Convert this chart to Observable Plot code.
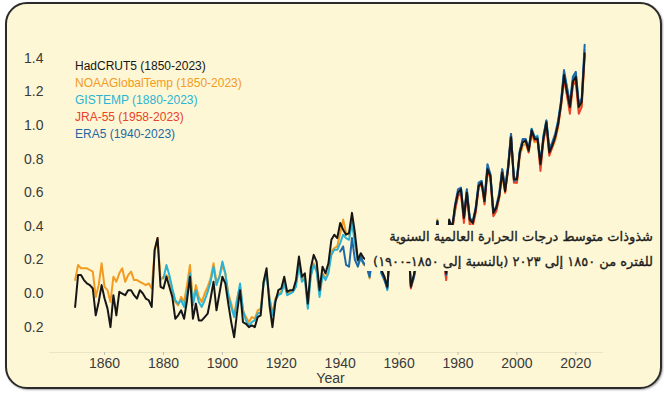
<!DOCTYPE html>
<html><head><meta charset="utf-8">
<script src="https://cdn.jsdelivr.net/npm/d3@7"></script>
<script src="https://cdn.jsdelivr.net/npm/@observablehq/plot@0.6"></script>
<style>
html,body{margin:0;padding:0;background:#fff;}
#wrap{position:relative;width:664px;height:393px;overflow:hidden;font-family:"Liberation Sans",Arial,sans-serif;}
#card{position:absolute;left:5px;top:2px;width:657px;height:387px;box-sizing:border-box;border:2px solid #2b2b2b;border-radius:22px;background:#fdf7d5;box-shadow:1px 1px 2px rgba(0,0,0,0.35);}
#chart{position:absolute;left:0;top:0;}
#legend{position:absolute;left:75px;top:58px;font-size:12px;line-height:17px;white-space:nowrap;}
#title{position:absolute;left:365px;top:225px;width:293px;height:46px;background:#fdf7d5;box-sizing:border-box;padding-right:5px;text-align:right;direction:rtl;font-family:"DejaVu Sans",sans-serif;font-weight:normal;font-size:13px;line-height:27px;color:#1e1e1e;white-space:nowrap;overflow:hidden;-webkit-text-stroke:0.35px #1e1e1e;}
#title div{margin-top:-2px;}
</style></head>
<body>
<div id="wrap">
  <div id="card"></div>
  <div id="chart"></div>
  <div id="legend"></div>
  <div id="title"><div>شذوذات متوسط درجات الحرارة العالمية السنوية</div><div>للفتره من ١٨٥٠ إلى ٢٠٢٣ (بالنسبة إلى ١٨٥٠-١٩٠٠)</div></div>
</div>
<script>
// ---- data (anomalies in °C relative to 1850-1900) ----
const hadcrutStart = 1850;
const hadcrut = [
 -0.08, 0.11, 0.11, 0.08, 0.06, 0.05, 0.03, -0.13, -0.05, 0.05,
 -0.03, -0.09, -0.20, -0.01, -0.13, 0.01, 0.00, -0.01, 0.02, 0.02,
 -0.01, -0.03, 0.02, 0.00, -0.03, -0.04, -0.08, 0.26, 0.33, 0.04,
 0.03, 0.10, 0.04, -0.02, -0.15, -0.13, -0.10, -0.15, -0.04, 0.10,
 -0.15, -0.06, -0.16, -0.16, -0.14, -0.12, -0.03, 0.07, -0.10, 0.00,
 0.10, 0.06, -0.06, -0.17, -0.26, -0.11, 0.02, -0.17, -0.18, -0.20,
 -0.19, -0.20, -0.14, -0.13, 0.07, 0.15, -0.07, -0.20, -0.05, 0.02,
 0.03, 0.10, 0.01, 0.02, 0.02, 0.08, 0.22, 0.10, 0.12, -0.06,
 0.15, 0.23, 0.19, 0.02, 0.16, 0.12, 0.18, 0.32, 0.35, 0.33,
 0.42, 0.38, 0.35, 0.36, 0.48, 0.36, 0.20, 0.24, 0.21, 0.20,
 0.14, 0.27, 0.32, 0.38, 0.14, 0.10, 0.04, 0.29, 0.35, 0.31,
 0.26, 0.33, 0.32, 0.34, 0.04, 0.11, 0.20, 0.24, 0.20, 0.34,
 0.27, 0.15, 0.28, 0.43, 0.17, 0.23, 0.12, 0.44, 0.39, 0.52,
 0.60, 0.62, 0.45, 0.60, 0.44, 0.42, 0.50, 0.64, 0.66, 0.55,
 0.74, 0.70, 0.48, 0.51, 0.58, 0.72, 0.61, 0.74, 0.93, 0.68,
 0.68, 0.84, 0.90, 0.91, 0.85, 0.97, 0.92, 0.92, 0.77, 0.92,
 1.02, 0.84, 0.88, 0.93, 1.01, 1.13, 1.30, 1.20, 1.11, 1.26,
 1.29, 1.11, 1.14, 1.43
];
const noaaStart = 1850;
const noaa = [
 0.08, 0.17, 0.15, 0.15, 0.15, 0.14, 0.13, -0.02, 0.05, 0.18,
 0.04, 0.02, -0.05, 0.10, 0.07, 0.12, 0.15, 0.07, 0.11, 0.13,
 0.08, 0.08, 0.07, 0.06, 0.05, 0.06, 0.03, 0.25, 0.33, 0.08,
 0.10, 0.11, 0.09, 0.02, -0.05, -0.07, -0.02, -0.05, 0.05, 0.17,
 -0.05, 0.05, -0.02, -0.05, 0.00, 0.04, 0.09, 0.18, 0.07, 0.10,
 0.17, 0.12, 0.00, -0.06, -0.13, -0.03, 0.04, -0.10, -0.14, -0.17,
 -0.14, -0.15, -0.10, -0.09, 0.07, 0.12, -0.02, -0.12, -0.03, 0.00,
 0.01, 0.07, 0.00, 0.01, 0.02, 0.06, 0.18, 0.09, 0.10, -0.07,
 0.11, 0.18, 0.14, 0.00, 0.12, 0.09, 0.13, 0.25, 0.27, 0.28,
 0.36, 0.44, 0.36, 0.35, 0.45, 0.32, 0.19, 0.21, 0.17, 0.16,
 0.09, 0.24, 0.30, 0.40, 0.13, 0.09, 0.03, 0.28, 0.35, 0.30,
 0.25, 0.32, 0.31, 0.33, 0.05, 0.10, 0.19, 0.23, 0.20, 0.35,
 0.28, 0.16, 0.27, 0.44, 0.18, 0.22, 0.13, 0.43, 0.38, 0.49,
 0.58, 0.60, 0.44, 0.62, 0.43, 0.41, 0.49, 0.63, 0.65, 0.54,
 0.73, 0.68, 0.47, 0.50, 0.57, 0.70, 0.60, 0.75, 0.91, 0.67,
 0.66, 0.82, 0.88, 0.89, 0.84, 0.95, 0.90, 0.91, 0.76, 0.91,
 1.00, 0.83, 0.87, 0.91, 0.99, 1.12, 1.28, 1.18, 1.10, 1.24,
 1.27, 1.10, 1.12, 1.41
];
const gistempStart = 1880;
const gistemp = [
 0.09, 0.17, 0.11, 0.03, -0.04, -0.06, -0.04, -0.08, 0.00, 0.12,
 -0.07, 0.02, -0.05, -0.08, -0.04, 0.01, 0.07, 0.16, 0.05, 0.10,
 0.19, 0.12, -0.01, -0.08, -0.14, -0.04, 0.06, -0.10, -0.16, -0.19,
 -0.17, -0.16, -0.12, -0.11, 0.06, 0.11, -0.03, -0.13, -0.04, -0.01,
 0.00, 0.06, -0.01, 0.00, 0.01, 0.04, 0.17, 0.07, 0.09, -0.09,
 0.10, 0.17, 0.13, -0.02, 0.11, 0.08, 0.12, 0.23, 0.26, 0.26,
 0.30, 0.35, 0.33, 0.32, 0.42, 0.30, 0.19, 0.20, 0.18, 0.17,
 0.10, 0.25, 0.31, 0.39, 0.12, 0.10, 0.02, 0.30, 0.36, 0.31,
 0.25, 0.33, 0.32, 0.34, 0.04, 0.09, 0.18, 0.22, 0.19, 0.34,
 0.27, 0.15, 0.27, 0.43, 0.16, 0.21, 0.12, 0.43, 0.38, 0.50,
 0.60, 0.63, 0.45, 0.61, 0.44, 0.42, 0.50, 0.64, 0.67, 0.55,
 0.75, 0.71, 0.48, 0.51, 0.58, 0.73, 0.63, 0.75, 0.94, 0.69,
 0.69, 0.85, 0.91, 0.91, 0.86, 0.98, 0.93, 0.94, 0.77, 0.93,
 1.03, 0.86, 0.89, 0.94, 1.02, 1.14, 1.31, 1.22, 1.12, 1.27,
 1.31, 1.12, 1.15, 1.45
];
const jra55Start = 1958;
const jra55 = [
 0.38, 0.32,
 0.26, 0.33, 0.31, 0.34, 0.03, 0.10, 0.19, 0.23, 0.19, 0.33,
 0.26, 0.14, 0.27, 0.42, 0.14, 0.21, 0.08, 0.42, 0.37, 0.50,
 0.58, 0.60, 0.42, 0.59, 0.41, 0.40, 0.48, 0.63, 0.66, 0.53,
 0.73, 0.69, 0.46, 0.49, 0.57, 0.74, 0.60, 0.74, 0.95, 0.66,
 0.66, 0.84, 0.92, 0.91, 0.84, 0.97, 0.91, 0.92, 0.73, 0.91,
 1.00, 0.82, 0.87, 0.93, 1.00, 1.12, 1.28, 1.18, 1.07, 1.24,
 1.26, 1.07, 1.11, 1.42
];
const era5Start = 1940;
const era5 = [
 0.25, 0.28, 0.17, 0.16, 0.33, 0.20, 0.16, 0.22, 0.18, 0.16,
 0.10, 0.24, 0.30, 0.37, 0.12, 0.08, 0.03, 0.28, 0.36, 0.30,
 0.25, 0.32, 0.31, 0.33, 0.05, 0.10, 0.19, 0.23, 0.20, 0.34,
 0.27, 0.15, 0.27, 0.43, 0.16, 0.22, 0.11, 0.43, 0.38, 0.53,
 0.62, 0.63, 0.46, 0.62, 0.45, 0.43, 0.51, 0.66, 0.67, 0.56,
 0.77, 0.71, 0.49, 0.52, 0.60, 0.74, 0.63, 0.76, 0.95, 0.67,
 0.68, 0.85, 0.92, 0.92, 0.86, 0.98, 0.93, 0.93, 0.78, 0.94,
 1.03, 0.86, 0.90, 0.95, 1.03, 1.15, 1.33, 1.23, 1.13, 1.29,
 1.32, 1.13, 1.16, 1.48
];
const seriesNames = ["HadCRUT5", "NOAAGlobalTemp", "GISTEMP", "JRA-55", "ERA5"];
const legendLabels = ["HadCRUT5 (1850-2023)", "NOAAGlobalTemp (1850-2023)", "GISTEMP (1880-2023)", "JRA-55 (1958-2023)", "ERA5 (1940-2023)"];
const seriesColors = ["#161616", "#f39a21", "#2bb3d3", "#e8432b", "#1f68a6"];
const xTicks = [1860, 1880, 1900, 1920, 1940, 1960, 1980, 2000, 2020];
const yTicks = [-0.2, 0, 0.2, 0.4, 0.6, 0.8, 1.0, 1.2, 1.4];
const xTitle = "Year";
const xDomain = [1841.3, 2029.4];
const yDomain = [-0.351, 1.5];

// draw order: black on top
const drawOrder = [
  {name: "NOAAGlobalTemp", start: noaaStart, values: noaa},
  {name: "GISTEMP", start: gistempStart, values: gistemp},
  {name: "JRA-55", start: jra55Start, values: jra55},
  {name: "ERA5", start: era5Start, values: era5},
  {name: "HadCRUT5", start: hadcrutStart, values: hadcrut}
];
const rows = drawOrder.flatMap(s => s.values.map((v, i) => ({series: s.name, year: s.start + i, value: v})));

const chart = Plot.plot({
  width: 664,
  height: 393,
  marginLeft: 49,
  marginRight: 61,
  marginTop: 41,
  marginBottom: 41,
  style: {background: "transparent", fontFamily: "'Liberation Sans', Arial, sans-serif", fontSize: "14px", color: "#3a3a3a"},
  x: {domain: xDomain, label: null},
  y: {domain: yDomain, label: null},
  color: {domain: seriesNames, range: seriesColors},
  marks: [
    Plot.ruleY([yDomain[0]], {stroke: "#ebe5c6", strokeWidth: 1}),
    Plot.axisY({ticks: yTicks, tickSize: 0, tickPadding: 6, tickFormat: d => Math.abs(d).toFixed(1), label: null, fontSize: 14}),
    Plot.axisX({ticks: xTicks, tickSize: 3, tickPadding: 3, stroke: "#bbb", tickFormat: d => String(d), label: null, fontSize: 14}),
    Plot.text([xTitle], {frameAnchor: "bottom", dy: 26, dx: 4, lineAnchor: "middle", fontSize: 14, fill: "#3a3a3a"}),
    Plot.line(rows, {x: "year", y: "value", z: "series", stroke: "series", strokeWidth: 2, strokeLinejoin: "round"})
  ]
});
document.getElementById("chart").appendChild(chart);

const legend = d3.select("#legend");
legendLabels.forEach((t, i) => legend.append("div").style("color", seriesColors[i]).text(t));
</script>
</body></html>
